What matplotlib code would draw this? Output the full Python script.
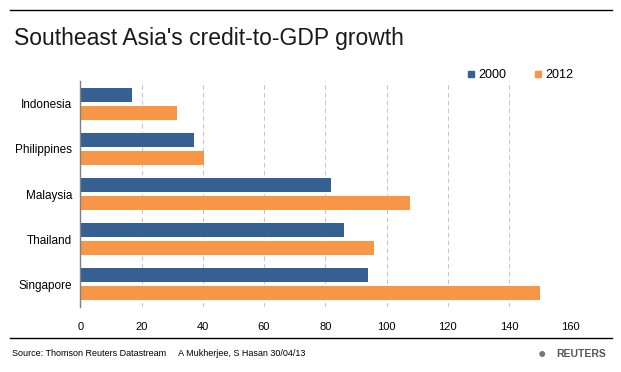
import numpy as np
import matplotlib.pyplot as plt
from matplotlib.lines import Line2D

plt.rcParams['font.family'] = ['Liberation Sans', 'DejaVu Sans']

countries = ['Indonesia', 'Philippines', 'Malaysia', 'Thailand', 'Singapore']
vals_2000 = [17, 37, 82, 86, 94]
vals_2012 = [31.5, 40.5, 107.5, 96, 150]
xticks = [0, 20, 40, 60, 80, 100, 120, 140, 160]

blue = '#366092'
orange = '#F79646'

fig = plt.figure(figsize=(6.21, 3.72), dpi=100)
ax = fig.add_axes([80.3 / 621, 1 - 307 / 372, 490 / 621, 226 / 372])

y = np.arange(len(countries))
ax.barh(y - 0.2, vals_2000, height=0.31, color=blue, zorder=3)
ax.barh(y + 0.2, vals_2012, height=0.31, color=orange, zorder=3)

ax.set_ylim(len(countries) - 0.5, -0.5)
ax.set_xlim(0, 160)
ax.set_yticks(y)
ax.set_yticklabels(countries, fontsize=8.5)
ax.set_xticks(xticks)
ax.set_xticklabels([str(t) for t in xticks], fontsize=8)
ax.tick_params(axis='both', length=0)
ax.tick_params(axis='x', pad=11)
ax.tick_params(axis='y', pad=6)

ax.grid(axis='x', color='#C8C8C8', linestyle=(0, (4, 3)), linewidth=0.8, zorder=0)
for s in ['top', 'right', 'bottom']:
    ax.spines[s].set_visible(False)
ax.spines['left'].set_color('#808080')
ax.spines['left'].set_linewidth(1)
ax.spines['left'].set_zorder(4)

# legend
handles = [Line2D([], [], marker='s', linestyle='none', markersize=5, color=blue),
           Line2D([], [], marker='s', linestyle='none', markersize=5, color=orange)]
fig.legend(handles, ['2000', '2012'], loc='center left', bbox_to_anchor=(465 / 621, 1 - 75 / 372),
           ncol=2, frameon=False, fontsize=9, handletextpad=0.1, columnspacing=2.0,
           handlelength=1.0, borderaxespad=0, borderpad=0)

# title and lines
fig.add_artist(Line2D([10 / 621, 612 / 621], [1 - 10 / 372, 1 - 10 / 372], color='black', linewidth=1))
fig.text(14 / 621, 1 - 38 / 372, "Southeast Asia's credit-to-GDP growth", fontsize=16.5,
         va='center', ha='left', color='#1a1a1a')
fig.add_artist(Line2D([10 / 621, 612 / 621], [1 - 338 / 372, 1 - 338 / 372], color='black', linewidth=1))
fig.text(12 / 621, 1 - 354 / 372,
         'Source: Thomson Reuters Datastream     A Mukherjee, S Hasan 30/04/13',
         fontsize=6.5, va='center', ha='left', color='black')
fig.text(606 / 621, 1 - 354 / 372, 'REUTERS', fontsize=7.5, fontweight='bold',
         va='center', ha='right', color='#555555')
fig.text(546 / 621, 1 - 354 / 372, '\u25CF', fontsize=10, va='center', ha='right', color='#777777')

fig.savefig('out.png', dpi=100)
